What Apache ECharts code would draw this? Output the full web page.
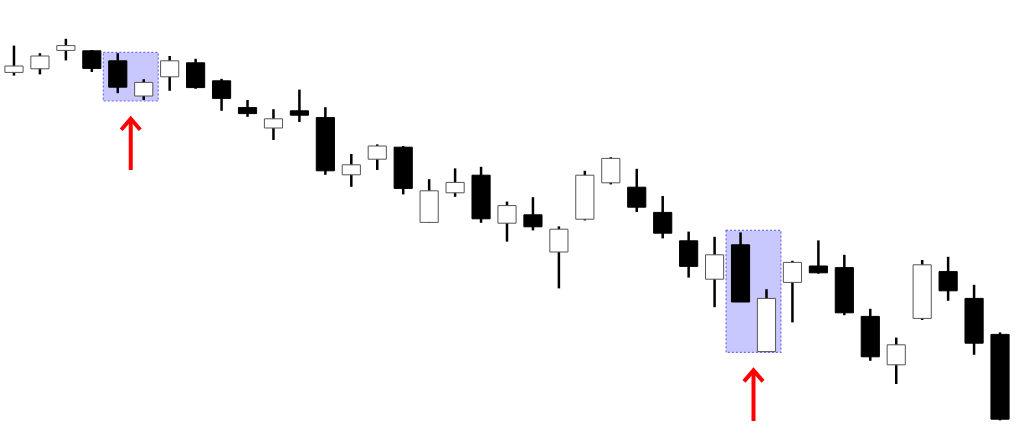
<!DOCTYPE html>
<html>
<head>
<meta charset="utf-8">
<script src="https://cdn.jsdelivr.net/npm/echarts@6/dist/echarts.min.js"></script>
<style>
html,body{margin:0;padding:0;background:#fff;}
#chart{width:1024px;height:436px;}
</style>
</head>
<body>
<div id="chart"></div>
<script>
var categories = ['1','2','3','4','5','6','7','8','9','10','11','12','13','14','15','16','17','18','19','20','21','22','23','24','25','26','27','28','29','30','31','32','33','34','35','36','37','38','39'];
var opens  = [101.9,102.8,107.4,107.3,104.8,96.0,100.8,104.3,99.8,93.1,88.0,92.3,90.6,76.3,80.2,83.2,64.4,71.8,76.2,64.2,66.3,57.0,65.2,74.3,73.2,66.9,59.8,50.2,58.8,32.1,49.4,53.5,53.1,40.9,28.8,40.4,52.1,45.4,36.4];
var closes = [103.5,106.0,108.6,102.9,98.2,99.4,104.8,98.1,95.4,91.6,90.3,91.2,77.3,78.8,83.5,72.9,72.3,74.4,65.3,68.6,63.3,62.7,76.2,80.4,68.2,61.7,53.4,56.3,44.5,45.4,54.4,51.8,41.8,30.8,33.8,53.8,47.3,34.2,15.2];
var lows   = [101.1,101.4,104.9,102.0,96.7,95.0,97.3,97.8,92.3,90.8,85.0,89.5,76.3,73.3,77.5,71.4,64.3,70.8,64.3,59.6,62.4,47.9,64.9,73.9,67.0,60.4,50.6,43.2,44.5,32.1,39.4,51.6,41.2,29.8,24.0,40.0,44.8,31.3,14.9];
var highs  = [108.6,106.7,110.3,107.5,106.7,100.2,106.0,105.3,100.3,95.0,92.7,97.6,93.2,81.5,83.9,83.5,75.2,77.9,78.3,69.6,70.7,63.4,77.3,80.7,77.8,71.0,62.1,60.8,61.9,47.7,54.8,59.9,56.3,42.8,35.6,55.0,55.8,48.8,36.9];

var highlightStart  = [4, 28];
var highlightEnd    = [5, 29];
var highlightTop    = [106.9, 62.4];
var highlightBottom = [94.75, 31.9];

var arrowLeft  = [4, 28];
var arrowRight = [5, 29];
var arrowTip   = [90.8, 27.9];
var arrowTail  = [77.5, 14.75];

var candleData = categories.map(function (c, i) {
  return [i, opens[i], closes[i], lows[i], highs[i]];
});
var highlightData = highlightStart.map(function (s, i) {
  return [s, highlightEnd[i], highlightTop[i], highlightBottom[i]];
});
var arrowData = arrowLeft.map(function (s, i) {
  return [s, arrowRight[i], arrowTip[i], arrowTail[i]];
});

var chart = echarts.init(document.getElementById('chart'));
chart.setOption({
  animation: false,
  backgroundColor: '#ffffff',
  grid: { left: 1, right: 11, top: 0, bottom: 0 },
  xAxis: { type: 'category', data: categories, show: false, boundaryGap: true },
  yAxis: { type: 'value', min: 11, max: 120, show: false, splitLine: { show: false } },
  series: [
    {
      type: 'custom',
      z: 1,
      data: highlightData,
      renderItem: function (params, api) {
        var bw = api.size([1, 0])[0];
        var p1 = api.coord([api.value(0), api.value(2)]);
        var p2 = api.coord([api.value(1), api.value(3)]);
        var pad = bw / 2 + 1.5;
        var x = p1[0] - pad, y = p1[1];
        return {
          type: 'rect',
          shape: { x: x, y: y, width: p2[0] + pad - x, height: p2[1] - y },
          style: { fill: '#c8c8ff', stroke: '#6b6bff', lineWidth: 1.2, lineDash: [2, 2] }
        };
      }
    },
    {
      type: 'custom',
      z: 2,
      data: candleData,
      renderItem: function (params, api) {
        var idx = api.value(0);
        var o = api.coord([idx, api.value(1)]);
        var c = api.coord([idx, api.value(2)]);
        var l = api.coord([idx, api.value(3)]);
        var h = api.coord([idx, api.value(4)]);
        var bw = api.size([1, 0])[0] * 0.7;
        var up = api.value(2) >= api.value(1);
        var top = Math.min(o[1], c[1]);
        var bot = Math.max(o[1], c[1]);
        return {
          type: 'group',
          children: [
            {
              type: 'line',
              shape: { x1: h[0], y1: h[1], x2: l[0], y2: l[1] },
              style: { stroke: '#000', lineWidth: 2.5 }
            },
            {
              type: 'rect',
              shape: { x: o[0] - bw / 2, y: top, width: bw, height: Math.max(bot - top, 1) },
              style: up ? { fill: '#fff', stroke: '#555', lineWidth: 1 } : { fill: '#000', stroke: '#000', lineWidth: 1 }
            }
          ]
        };
      }
    },
    {
      type: 'custom',
      z: 3,
      data: arrowData,
      renderItem: function (params, api) {
        var a = api.coord([api.value(0), api.value(2)]);
        var b = api.coord([api.value(1), api.value(2)]);
        var t = api.coord([api.value(0), api.value(3)]);
        var x = (a[0] + b[0]) / 2;
        var yTip = a[1], yTail = t[1];
        return {
          type: 'group',
          children: [
            {
              type: 'line',
              shape: { x1: x, y1: yTip + 2, x2: x, y2: yTail },
              style: { stroke: '#ff0000', lineWidth: 4 }
            },
            {
              type: 'polyline',
              shape: { points: [[x - 9.5, yTip + 13], [x, yTip + 2], [x + 9.5, yTip + 13]] },
              style: { stroke: '#ff0000', lineWidth: 4, fill: null, lineJoin: 'miter' }
            }
          ]
        };
      }
    }
  ]
});
</script>
</body>
</html>
